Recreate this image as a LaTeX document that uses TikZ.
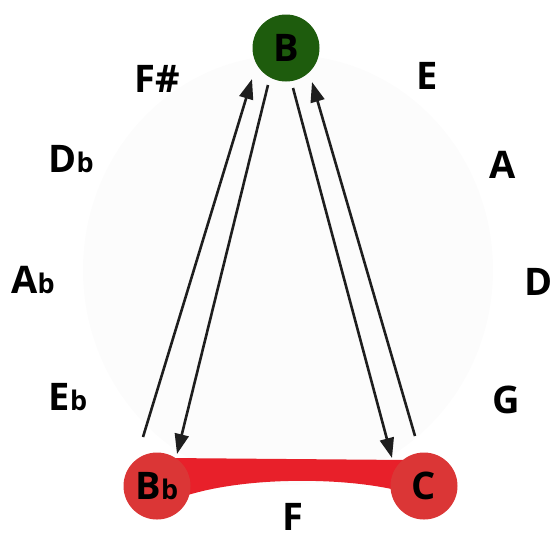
\documentclass[tikz,border=0pt]{standalone}
\usepackage{fontspec}
\setmainfont{Open Sans}
\usetikzlibrary{arrows.meta,calc}
\definecolor{rootgreen}{HTML}{1E5C0D}
\definecolor{ringred}{HTML}{DB3636}
\definecolor{bandred}{HTML}{E8202A}
\definecolor{inkblack}{HTML}{1E1E1E}
\definecolor{hazegray}{HTML}{FCFCFC}
\newcommand{\smallb}{{\fontsize{27}{27}\selectfont b}}
\tikzset{
  keylabel/.style={inner sep=0pt, font=\fontsize{38}{38}\selectfont\bfseries, text=black},
  keycircle/.style={circle, minimum size=67pt, inner sep=0pt, font=\fontsize{38}{38}\selectfont\bfseries, text=black},
  moveline/.style={draw=inkblack, line width=2.6pt, -{Triangle[length=20pt,width=14pt]}}
}
\begin{document}
\begin{tikzpicture}[x=1pt,y=-1pt]
\useasboundingbox (0,0) rectangle (553,539);

% faint backdrop
\fill[hazegray] (288,270) ellipse (205 and 215);

% pitch names around the circle
\node[keylabel] (Fs) at (157,79) {F\#};
\node[keylabel] (E)  at (427,76) {E};
\node[keylabel] (Db) at (71,159) {D\smallb};
\node[keylabel] (A)  at (503,165) {A};
\node[keylabel] (Ab) at (33,280) {A\smallb};
\node[keylabel] (D)  at (539,282) {D};
\node[keylabel] (Eb) at (68,397) {E\smallb};
\node[keylabel] (G)  at (506,400) {G};
\node[keylabel] (F)  at (293,517) {F};

% red band joining B-flat and C
\fill[bandred] (168,458) -- (408,460) -- (404,492)
  .. controls (350,477) and (240,475) .. (176,499) -- cycle;

% highlighted keys
\node[keycircle, fill=rootgreen] (B) at (286,48) {B};
\node[keycircle, fill=ringred] (Bb) at (157,486) {B\smallb};
\node[keycircle, fill=ringred] (C) at (424,486) {C};

% moves between the keys
\draw[moveline] ($(Bb)+(-14,-49)$) -- ($(B)+(-34,31)$);
\draw[moveline] ($(B)+(-18,37)$) -- ($(Bb)+(20,-32)$);
\draw[moveline] ($(B)+(7,40)$) -- ($(C)+(-32,-28)$);
\draw[moveline] ($(C)+(-9,-50)$) -- ($(B)+(26,34)$);
\end{tikzpicture}
\end{document}
